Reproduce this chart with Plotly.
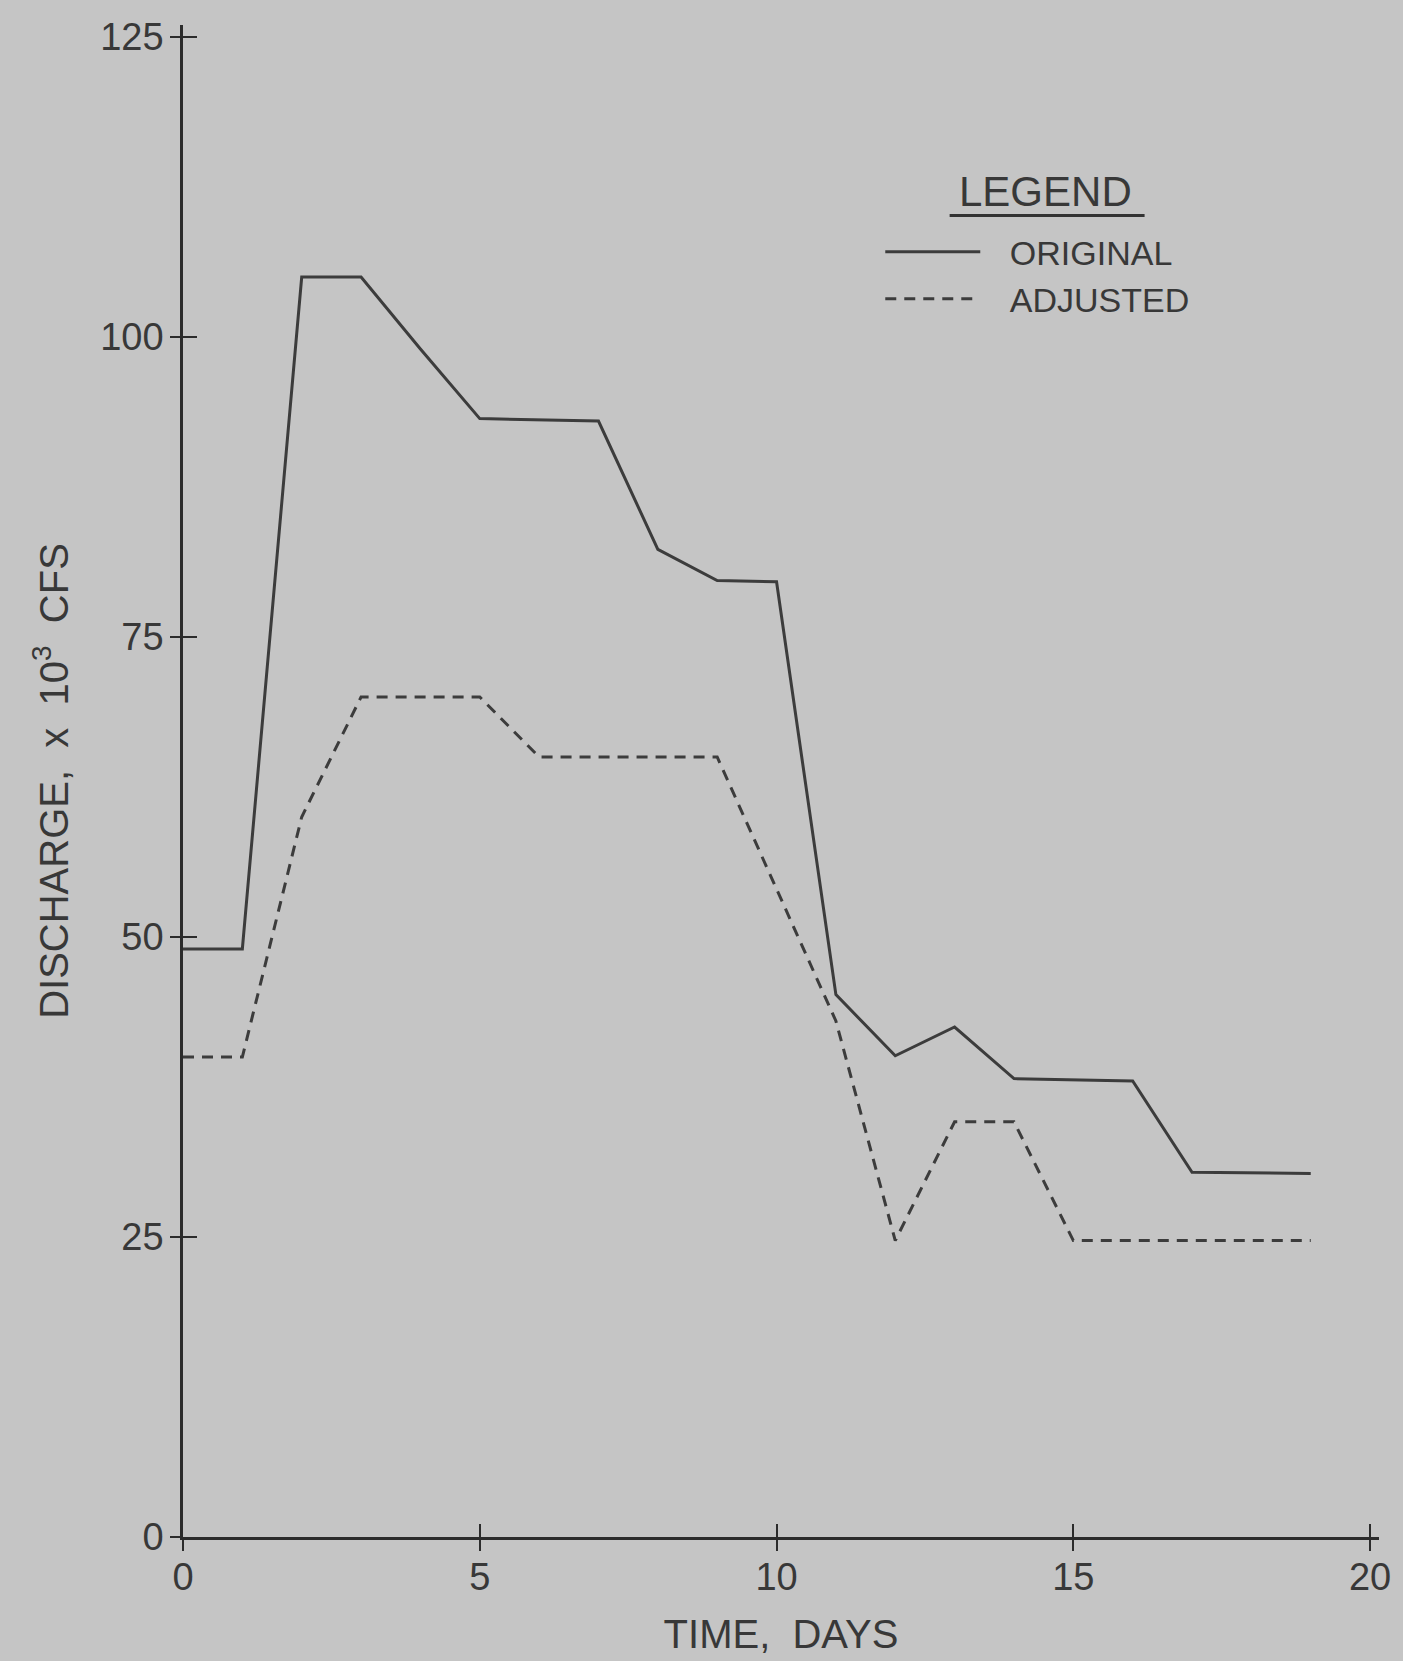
import plotly.graph_objects as go

# ---- data ----
days_original = [0, 1, 2, 3, 4, 5, 7, 8, 9, 10, 11, 12, 13, 14, 16, 17, 19]
discharge_original = [49, 49, 105, 105, 99, 93.2, 93, 82.3, 79.7, 79.6, 45.2, 40.1, 42.5, 38.2, 38, 30.4, 30.3]

days_adjusted = [0, 1, 2, 3, 5, 6, 9, 11, 12, 13, 14, 15, 19]
discharge_adjusted = [40, 40, 60, 70, 70, 65, 65, 43, 24.7, 34.6, 34.6, 24.7, 24.7]

x_ticks = [0, 5, 10, 15, 20]
y_ticks = [0, 25, 50, 75, 100, 125]
x_range = [0, 20.15]
y_range = [0, 126]

x_title = "TIME,  DAYS"
y_title = "DISCHARGE,  x  10<sup>3</sup>  CFS"
legend_title = "LEGEND"
name_original = "ORIGINAL"
name_adjusted = "ADJUSTED"

# ---- styles ----
BG = "#c5c5c5"
INK = "#383838"
LINE = "#3c3c3c"
AX = "#2c2c2c"
FONT = "Liberation Sans"
PAD = "\u00a0\u00a0\u200a\u200a"

fig = go.Figure()
fig.add_trace(go.Scatter(
    x=days_original, y=discharge_original, mode="lines", name=PAD + name_original,
    line=dict(color=LINE, width=3), xaxis="x", yaxis="y",
))
fig.add_trace(go.Scatter(
    x=days_adjusted, y=discharge_adjusted, mode="lines", name=PAD + name_adjusted,
    line=dict(color=LINE, width=3, dash="11px,8px"), xaxis="x2", yaxis="y2",
))

tick_font = dict(family=FONT, size=38, color=INK)

fig.update_layout(
    width=1403, height=1661,
    paper_bgcolor=BG, plot_bgcolor=BG,
    margin=dict(l=183, r=22, t=25, b=122),
    font=dict(family=FONT, color=INK),
    # main axes: inside half of the cross ticks + labels + axis lines
    xaxis=dict(
        range=x_range, tickmode="array", tickvals=x_ticks, ticks="inside", ticklen=13,
        tickwidth=2.2, tickcolor=AX, ticklabelstandoff=5, tickfont=tick_font,
        showgrid=False, zeroline=False, showline=True, linecolor=AX, linewidth=2.6,
        title=dict(text=x_title, font=dict(family=FONT, size=40, color=INK), standoff=23),
    ),
    yaxis=dict(
        range=y_range, tickmode="array", tickvals=y_ticks, ticks="inside", ticklen=14,
        tickwidth=2.2, tickcolor=AX, ticklabelstandoff=9, tickfont=tick_font,
        showgrid=False, zeroline=False, showline=True, linecolor=AX, linewidth=2.6,
        title=dict(text=y_title, font=dict(family=FONT, size=40, color=INK), standoff=20),
    ),
    # overlay axes: the outside half of the cross-shaped ticks
    xaxis2=dict(
        overlaying="x", anchor="y2", side="bottom", range=x_range, tickmode="array",
        tickvals=x_ticks, ticks="outside", ticklen=13, tickwidth=2.2, tickcolor=AX,
        showticklabels=False, showgrid=False, zeroline=False, showline=False,
    ),
    yaxis2=dict(
        overlaying="y", anchor="x2", side="left", range=y_range, tickmode="array",
        tickvals=y_ticks, ticks="outside", ticklen=12, tickwidth=2.2, tickcolor=AX,
        showticklabels=False, showgrid=False, zeroline=False, showline=False,
    ),
    showlegend=True,
    legend=dict(
        x=0.583, y=0.869, xanchor="left", yanchor="top",
        bgcolor="rgba(0,0,0,0)", borderwidth=0,
        font=dict(family=FONT, size=34, color=INK),
        itemwidth=95, tracegroupgap=0,
    ),
    annotations=[dict(
        text=legend_title, xref="paper", yref="paper", x=0.721, y=0.890,
        xanchor="center", yanchor="middle", showarrow=False,
        font=dict(family=FONT, size=42, color=INK),
    )],
    shapes=[dict(
        type="line", xref="paper", yref="paper", x0=0.641, x1=0.804, y0=0.874, y1=0.874,
        line=dict(color="#333333", width=3),
    )],
)

fig.write_html("out.html")
